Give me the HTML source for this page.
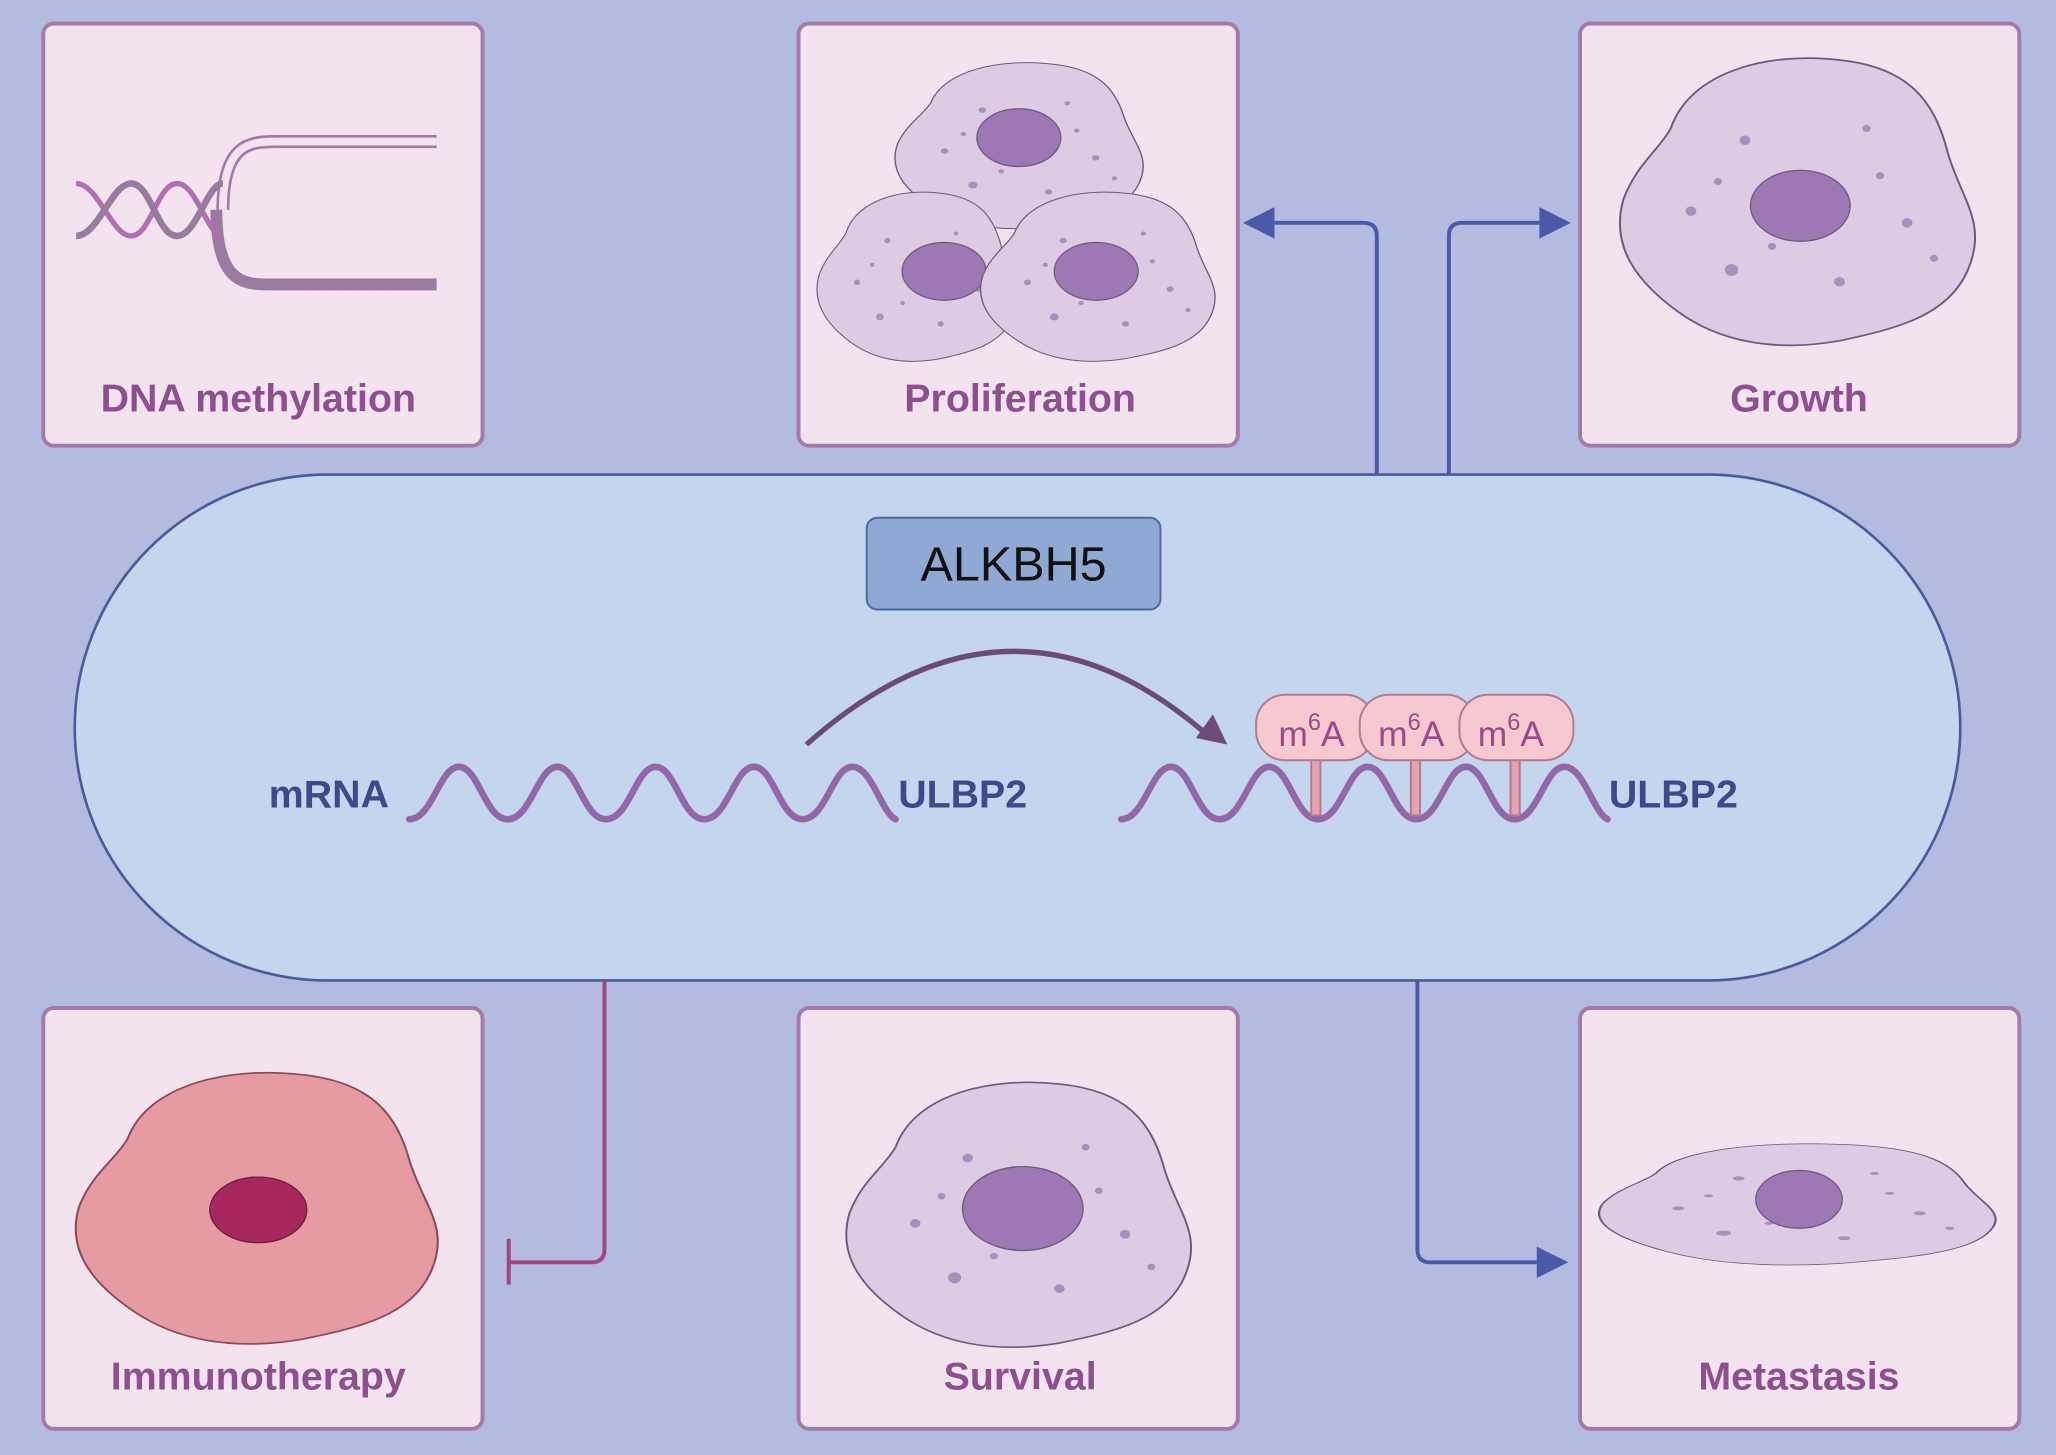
<!DOCTYPE html>
<html><head><meta charset="utf-8"><style>
html,body{margin:0;padding:0;background:#b3bce0;}
svg{display:block}
text{font-family:"Liberation Sans",sans-serif}
</style></head><body>
<svg width="2056" height="1455" viewBox="0 0 1568 1110" preserveAspectRatio="none" xmlns="http://www.w3.org/2000/svg">
<defs>
<g id="cell">
<path d="M-95,-60 C-80,-110 -20,-125 30,-118 C80,-112 100,-85 110,-40 C120,0 140,20 125,60 C110,100 70,110 30,120 C-20,130 -60,120 -90,95 C-120,70 -140,40 -130,0 C-120,-30 -105,-40 -95,-60 Z" fill="#dccbe3" stroke="#6e5a80" stroke-width="1.5"/>
<circle cx="-40" cy="-50" r="4" fill="#a890bd"/><circle cx="50" cy="-60" r="3" fill="#a890bd"/>
<circle cx="-80" cy="10" r="4" fill="#a890bd"/><circle cx="80" cy="20" r="4" fill="#a890bd"/>
<circle cx="-50" cy="60" r="5" fill="#a890bd"/><circle cx="30" cy="70" r="4" fill="#a890bd"/>
<circle cx="-20" cy="40" r="3" fill="#a890bd"/><circle cx="60" cy="-20" r="3" fill="#a890bd"/>
<circle cx="-60" cy="-15" r="3" fill="#a890bd"/><circle cx="100" cy="50" r="3" fill="#a890bd"/>
</g>
</defs>
<rect width="1568" height="1110" fill="#b3bce0"/>
<g fill="#f2e3ee" stroke="#a57aa8" stroke-width="3">
<rect x="33" y="18" width="335" height="322" rx="8"/>
<rect x="609" y="18" width="335" height="322" rx="8"/>
<rect x="1205" y="18" width="335" height="322" rx="8"/>
<rect x="33" y="769" width="335" height="321" rx="8"/>
<rect x="609" y="769" width="335" height="321" rx="8"/>
<rect x="1205" y="769" width="335" height="321" rx="8"/>
</g>
<g font-size="30" font-weight="bold" fill="#8e4f8e" text-anchor="middle">
<text x="197" y="314">DNA methylation</text>
<text x="778" y="314">Proliferation</text>
<text x="1372" y="314">Growth</text>
<text x="197" y="1060">Immunotherapy</text>
<text x="778" y="1060">Survival</text>
<text x="1372" y="1060">Metastasis</text>
</g>
<g fill="none">
<path d="M170,160 C170,110 190,108 210,108 L333,108" stroke="#a07aa8" stroke-width="10"/>
<path d="M170,160 C170,110 190,108 210,108 L333,108" stroke="#f2e3ee" stroke-width="6"/>
<path d="M165,160 C165,215 185,217 205,217 L333,217" stroke="#9a7a9e" stroke-width="9"/>
<path d="M58,140 C75,140 85,180 100,180 C115,180 120,140 135,140 C150,140 158,180 170,180" stroke="#b070b0" stroke-width="4"/>
<path d="M58,180 C75,180 85,140 100,140 C115,140 120,180 135,180 C150,180 158,140 170,140" stroke="#9a7a9e" stroke-width="5"/>
</g>
<g transform="translate(778,110) scale(0.72,0.52)"><use href="#cell"/></g>
<ellipse cx="777" cy="105" rx="32" ry="22" fill="#9e78b4" stroke="#6e5a80"/>
<g transform="translate(700,210) scale(0.58,0.53)"><use href="#cell"/></g>
<ellipse cx="720" cy="207" rx="32" ry="22" fill="#9e78b4" stroke="#6e5a80"/>
<g transform="translate(838,210) scale(0.68,0.53)"><use href="#cell"/></g>
<ellipse cx="836" cy="207" rx="32" ry="22" fill="#9e78b4" stroke="#6e5a80"/>
<g transform="translate(1372,152) scale(1.03,0.9)"><use href="#cell"/></g>
<ellipse cx="1373" cy="157" rx="38" ry="27" fill="#9e78b4" stroke="#6e5a80"/>
<g transform="translate(197,920) scale(1.05,0.85)"><path d="M-95,-60 C-80,-110 -20,-125 30,-118 C80,-112 100,-85 110,-40 C120,0 140,20 125,60 C110,100 70,110 30,120 C-20,130 -60,120 -90,95 C-120,70 -140,40 -130,0 C-120,-30 -105,-40 -95,-60 Z" fill="#e69aa2" stroke="#8a4a5a" stroke-width="1.5"/></g>
<ellipse cx="197" cy="923" rx="37" ry="25" fill="#a8285e" stroke="#6a2040"/>
<g transform="translate(778,925) scale(1.0,0.83)"><use href="#cell"/></g>
<ellipse cx="780" cy="922" rx="46" ry="32" fill="#9e78b4" stroke="#6e5a80"/>
<g transform="translate(1372,918) scale(1.15,0.38)"><use href="#cell"/></g>
<ellipse cx="1372" cy="915" rx="33" ry="22" fill="#9e78b4" stroke="#6e5a80"/>
<rect x="57" y="362" width="1438" height="386" rx="193" fill="#c3d6ee" stroke="#4a5a9a" stroke-width="2"/>
<rect x="661" y="395" width="224" height="70" rx="8" fill="#8fa9d4" stroke="#4a6aa0" stroke-width="1.5"/>
<text x="773" y="443" font-size="37" text-anchor="middle" fill="#111">ALKBH5</text>
<path d="M615,568 Q770,430 920,560" fill="none" stroke="#6d4a7a" stroke-width="4"/>
<path d="M936,568 L912,563 L925,545 Z" fill="#6d4a7a"/>
<g font-size="30" font-weight="bold" fill="#3d4a8a">
<text x="205" y="616">mRNA</text>
<text x="685" y="616">ULBP2</text>
<text x="1227" y="616">ULBP2</text>
</g>
<g fill="none" stroke="#9468a8" stroke-width="5" stroke-linecap="round">
<path d="M312,625 C330,625 335,585 350,585 C365,585 370,625 387,625 C405,625 410,585 425,585 C440,585 445,625 462,625 C480,625 485,585 500,585 C515,585 520,625 537,625 C555,625 560,585 575,585 C590,585 595,625 612,625 C630,625 635,585 650,585 C665,585 672,620 683,625"/>
<path d="M855,625 C873,625 878,585 893,585 C908,585 913,625 930,625 C948,625 953,585 968,585 C983,585 988,625 1005,625 C1023,625 1028,585 1043,585 C1058,585 1063,625 1080,625 C1098,625 1103,585 1118,585 C1133,585 1138,625 1155,625 C1173,625 1178,585 1193,585 C1208,585 1215,620 1226,625"/>
</g>
<g fill="#e5a3b0" stroke="#b07a90" stroke-width="1.5">
<rect x="1000" y="578" width="7" height="44"/>
<rect x="1076" y="578" width="7" height="44"/>
<rect x="1152" y="578" width="7" height="44"/>
</g>
<g fill="#f6c8cf" stroke="#b07a90" stroke-width="1.5">
<rect x="958" y="530" width="90" height="50" rx="22"/>
<rect x="1037" y="530" width="88" height="50" rx="22"/>
<rect x="1113" y="530" width="87" height="50" rx="22"/>
</g>
<g font-size="27" fill="#9a4a8a">
<text x="975" y="569">m<tspan font-size="18" dy="-12">6</tspan><tspan dy="12">A</tspan></text>
<text x="1051" y="569">m<tspan font-size="18" dy="-12">6</tspan><tspan dy="12">A</tspan></text>
<text x="1127" y="569">m<tspan font-size="18" dy="-12">6</tspan><tspan dy="12">A</tspan></text>
</g>
<g fill="none" stroke="#4a5aa8" stroke-width="3">
<path d="M1050,362 L1050,180 Q1050,170 1040,170 L965,170"/>
<path d="M1105,362 L1105,180 Q1105,170 1115,170 L1180,170"/>
<path d="M1081,748 L1081,953 Q1081,963 1091,963 L1178,963"/>
</g>
<g fill="#4a5aa8">
<path d="M948,170 L972,158 L972,182 Z"/>
<path d="M1198,170 L1174,158 L1174,182 Z"/>
<path d="M1196,963 L1172,951 L1172,975 Z"/>
</g>
<g fill="none" stroke="#a0467a" stroke-width="3">
<path d="M461,748 L461,953 Q461,963 451,963 L388,963"/>
<path d="M388,945 L388,980"/>
</g>
</svg>
</body></html>
